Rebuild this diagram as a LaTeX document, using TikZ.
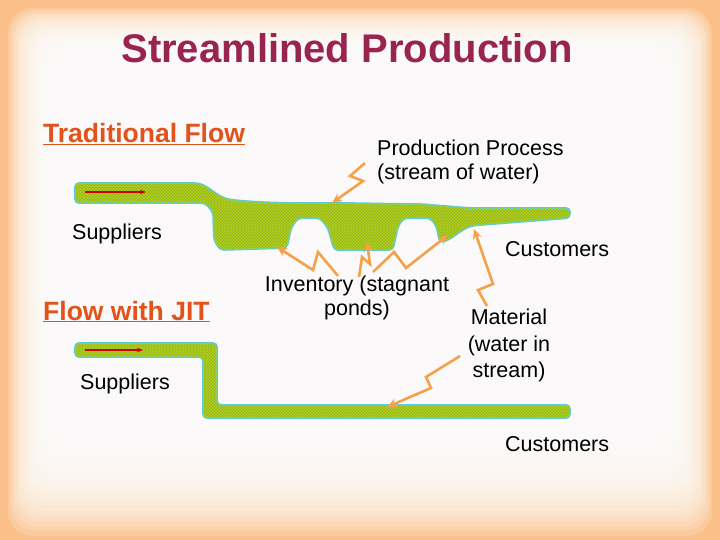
\documentclass[tikz,border=0pt]{standalone}
\usepackage{fontspec}
\setmainfont{Liberation Sans}
\usetikzlibrary{patterns,arrows.meta}
\definecolor{bgor}{HTML}{FBC08A}
\definecolor{water}{HTML}{A6AC2A}
\definecolor{rim}{HTML}{5CC8D8}
\definecolor{callout}{HTML}{F5A04A}
\definecolor{titlec}{HTML}{9A2450}
\definecolor{headc}{HTML}{E2521B}
\tikzset{
  stream/.style={draw=rim,line width=1.8pt,fill=water,rounded corners=4pt},
  hatch/.style={pattern=crosshatch,pattern color=water!55!yellow!80!green},
  call/.style={draw=callout,line width=2.6pt,-{Stealth[length=10pt,width=9pt]}},
  redarr/.style={draw=red!80!black,line width=1.5pt,-{Stealth[length=6pt]}},
  txt/.style={font=\fontsize{21.5}{24}\selectfont,inner sep=0pt,align=center},
  head/.style={font=\fontsize{26.5}{28}\selectfont\bfseries,text=headc,inner sep=0pt,anchor=base west}
}
\begin{document}
\begin{tikzpicture}[x=1pt,y=-1pt]
\useasboundingbox (0,0) rectangle (720,540);
\fill[bgor] (0,0) rectangle (720,540);
\foreach \i in {0,...,25}{
  \fill[white,opacity=0.16,rounded corners=25pt] (8+2.2*\i,8+2.2*\i) rectangle (712-2.2*\i,536-5*\i);
}
% title
\node[font=\fontsize{40}{44}\selectfont\bfseries,text=titlec,inner sep=0pt] (title) at (347,48) {Streamlined Production};
\node[head] (trad) at (43,143) {\underline{Traditional Flow}};
\node[head] (jit) at (43,320) {\underline{Flow with JIT}};
% streams
\def\topstream{(75,183) -- (190,183) to[out=0,in=170] (233,200) to[out=-5,in=180] (330,203)
  to[out=0,in=180] (420,204) -- (470,208) -- (570,208) -- (570,218) -- (480,225)
  to[out=185,in=20] (440,243) -- (436,225) -- (430,218) -- (404,218) -- (398,226) -- (393,250)
  -- (334,250) -- (328,228) -- (320,218) -- (298,218) -- (291,228) -- (287,248) -- (220,250)
  -- (214,240) -- (213,212) -- (205,203) -- (75,203) -- cycle}
\def\botstream{(75,343) -- (217,343) -- (217,405) -- (570,405) -- (570,418) -- (203,418) -- (203,357) -- (75,357) -- cycle}
\path[stream] \topstream;
\path[hatch,rounded corners=4pt] \topstream;
\path[stream] \botstream;
\path[hatch,rounded corners=4pt] \botstream;
\coordinate (r1a) at (85,192); \coordinate (r1b) at (146,192);
\coordinate (r2a) at (85,350); \coordinate (r2b) at (143,350);
\draw[redarr] (r1a) -- (r1b);
\draw[redarr] (r2a) -- (r2b);
% texts
\node[txt,anchor=north west,align=left] (pp) at (377,140) {Production Process\\(stream of water)};
\node[txt,anchor=west] (sup1) at (72,234) {Suppliers};
\node[txt,anchor=west] (cus1) at (505,249) {Customers};
\node[txt,anchor=north] (inv) at (357,276) {Inventory (stagnant\\ponds)};
\node[txt,anchor=north,font=\fontsize{21.5}{26.5}\selectfont] (mat) at (509,309) {Material\\(water in\\stream)};
\node[txt,anchor=west] (sup2) at (80,384) {Suppliers};
\node[txt,anchor=west] (cus2) at (505,444) {Customers};
% callouts
\coordinate (t0) at (332,203); \coordinate (t1) at (277,247); \coordinate (t2) at (367,242);
\coordinate (t3) at (448,235); \coordinate (t4) at (474,229); \coordinate (t5) at (387,407);
\draw[call] (365,163) -- (350,176) -- (363,181) -- (t0);
\draw[call] (338,276) -- (318,252) -- (313,270) -- (t1);
\draw[call] (359,277) -- (362,257) -- (370,264) -- (t2);
\draw[call] (373,272) -- (394,252) -- (406,268) -- (t3);
\draw[call] (487,306) -- (478,290) -- (493,284) -- (t4);
\draw[call] (460,356) -- (426,377) -- (431,388) -- (t5);
\end{tikzpicture}
\end{document}
